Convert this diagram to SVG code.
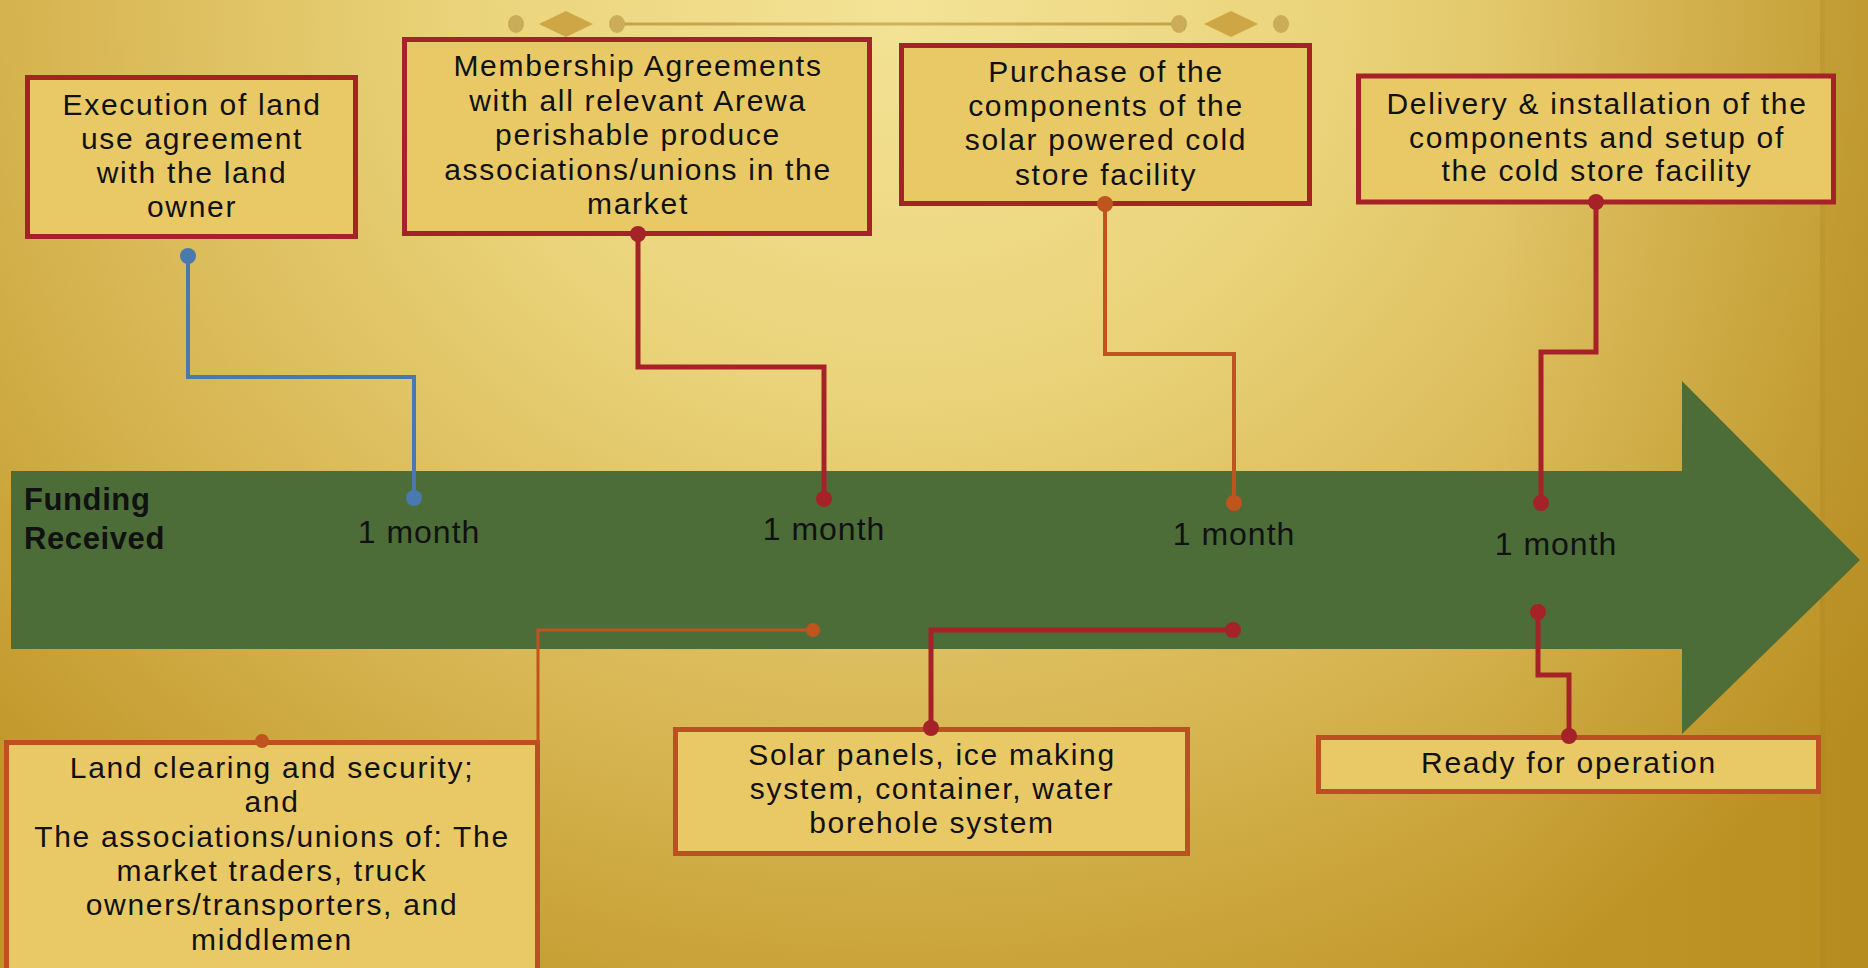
<svg xmlns="http://www.w3.org/2000/svg" width="1868" height="968" viewBox="0 0 1868 968">
  <defs>
    <radialGradient id="bg" cx="900" cy="0" r="1250" gradientUnits="userSpaceOnUse" gradientTransform="translate(900 0) scale(1 0.9) translate(-900 0)">
      <stop offset="0" stop-color="#f4e396"/>
      <stop offset="0.35" stop-color="#ead37a"/>
      <stop offset="0.7" stop-color="#d6b450"/>
      <stop offset="1" stop-color="#c09628"/>
    </radialGradient>
    <linearGradient id="rightShade" x1="0" y1="0" x2="1" y2="0">
      <stop offset="0" stop-color="#a87e10" stop-opacity="0"/>
      <stop offset="1" stop-color="#a87e10" stop-opacity="0.3"/>
    </linearGradient>
    <linearGradient id="decoLine" x1="0" y1="0" x2="1" y2="0">
      <stop offset="0" stop-color="#b89a44"/>
      <stop offset="0.5" stop-color="#c6a954"/>
      <stop offset="1" stop-color="#b89a44"/>
    </linearGradient>
    <style>
      .box-top { fill: #e9c966; stroke: #a52228; stroke-width: 5; }
      .box-bot { fill: #e9c966; stroke: #bd4f22; stroke-width: 5; }
      .txt { font-family: "Liberation Sans", Arial, sans-serif; font-size: 30px; letter-spacing: 1.7px; fill: #111; text-anchor: middle; }
      .month { font-family: "Liberation Sans", Arial, sans-serif; font-size: 32px; letter-spacing: 1px; fill: #111; text-anchor: middle; }
      .bold { font-family: "Liberation Sans", Arial, sans-serif; font-size: 31px; font-weight: bold; letter-spacing: 0.6px; fill: #111; }
      .c-blue { fill: none; stroke: #4a79b0; stroke-width: 4; }
      .c-red { fill: none; stroke: #a52228; stroke-width: 5; }
      .c-orange { fill: none; stroke: #c0541f; stroke-width: 4; }
      .c-orange-thin { fill: none; stroke: #c0541f; stroke-width: 3; }
      .d-blue { fill: #4a79b0; }
      .d-red { fill: #a52228; }
      .d-orange { fill: #c0541f; }
    </style>
  </defs>

  <!-- background -->
  <rect x="0" y="0" width="1868" height="968" fill="url(#bg)"/>
  <rect x="1500" y="0" width="368" height="968" fill="url(#rightShade)"/>
  <rect x="1820" y="0" width="5" height="968" fill="#a47c18" opacity="0.25"/>
  <rect x="1825" y="0" width="43" height="968" fill="#a47c18" opacity="0.12"/>

  <!-- top decoration -->
  <g id="decoration" opacity="0.85">
    <rect x="616" y="22.5" width="563" height="3" fill="url(#decoLine)"/>
    <ellipse cx="516" cy="24" rx="8" ry="9" fill="#c4a552"/>
    <polygon points="539,24 566,11 593,24 566,37" fill="#c99e3c"/>
    <ellipse cx="617" cy="24" rx="8" ry="9" fill="#c4a552"/>
    <ellipse cx="1179" cy="24" rx="8" ry="9" fill="#c4a552"/>
    <polygon points="1204,24 1231,11 1258,24 1231,37" fill="#c99e3c"/>
    <ellipse cx="1281" cy="24" rx="8" ry="9" fill="#c4a552"/>
  </g>

  <!-- timeline arrow -->
  <g id="timeline">
    <polygon points="11,471 1682,471 1682,381 1860,560 1682,734 1682,649 11,649" fill="#4c6d38"/>
    <text class="bold" x="24" y="510">Funding</text>
    <text class="bold" x="24" y="549">Received</text>
    <text class="month" x="419" y="543">1 month</text>
    <text class="month" x="824" y="540">1 month</text>
    <text class="month" x="1234" y="545">1 month</text>
    <text class="month" x="1556" y="555">1 month</text>
  </g>

  <!-- top nodes -->
  <g id="node-land-use">
    <rect class="box-top" x="27.5" y="77.5" width="328" height="159"/>
    <text class="txt" x="192" y="115">Execution of land</text>
    <text class="txt" x="192" y="149">use agreement</text>
    <text class="txt" x="192" y="183">with the land</text>
    <text class="txt" x="192" y="217">owner</text>
  </g>

  <g id="node-membership">
    <rect class="box-top" x="404.5" y="39.5" width="465" height="194"/>
    <text class="txt" x="638" y="76">Membership Agreements</text>
    <text class="txt" x="638" y="111">with all relevant Arewa</text>
    <text class="txt" x="638" y="145">perishable produce</text>
    <text class="txt" x="638" y="180">associations/unions in the</text>
    <text class="txt" x="638" y="214">market</text>
  </g>

  <g id="node-purchase">
    <rect class="box-top" x="901.5" y="45.5" width="408" height="158"/>
    <text class="txt" x="1106" y="82">Purchase of the</text>
    <text class="txt" x="1106" y="116">components of the</text>
    <text class="txt" x="1106" y="150">solar powered cold</text>
    <text class="txt" x="1106" y="185">store facility</text>
  </g>

  <g id="node-delivery">
    <rect class="box-top" x="1358.5" y="76" width="475" height="126"/>
    <text class="txt" x="1597" y="114">Delivery &amp; installation of the</text>
    <text class="txt" x="1597" y="148">components and setup of</text>
    <text class="txt" x="1597" y="181">the cold store facility</text>
  </g>

  <!-- bottom nodes -->
  <g id="node-land-clearing">
    <rect class="box-bot" x="6.5" y="742.5" width="531" height="240"/>
    <text class="txt" x="272" y="778">Land clearing and security;</text>
    <text class="txt" x="272" y="812">and</text>
    <text class="txt" x="272" y="847">The associations/unions of: The</text>
    <text class="txt" x="272" y="881">market traders, truck</text>
    <text class="txt" x="272" y="915">owners/transporters, and</text>
    <text class="txt" x="272" y="950">middlemen</text>
  </g>

  <g id="node-solar">
    <rect class="box-bot" x="675.5" y="729.5" width="512" height="124"/>
    <text class="txt" x="932" y="765">Solar panels, ice making</text>
    <text class="txt" x="932" y="799">system, container, water</text>
    <text class="txt" x="932" y="833">borehole system</text>
  </g>

  <g id="node-ready">
    <rect class="box-bot" x="1318.5" y="737.5" width="500" height="54"/>
    <text class="txt" x="1569" y="773">Ready for operation</text>
  </g>

  <!-- connectors -->
  <g id="connectors">
    <path class="c-blue" d="M188,256 V377 H414 V498"/>
    <circle class="d-blue" cx="188" cy="256" r="8"/>
    <circle class="d-blue" cx="414" cy="498" r="8"/>

    <path class="c-red" d="M638,234 V367 H824 V499"/>
    <circle class="d-red" cx="638" cy="234" r="8"/>
    <circle class="d-red" cx="824" cy="499" r="8"/>

    <path class="c-orange" d="M1105,204 V354 H1234 V503"/>
    <circle class="d-orange" cx="1105" cy="204" r="8"/>
    <circle class="d-orange" cx="1234" cy="503" r="8"/>

    <path class="c-red" d="M1596,202 V352 H1541 V503"/>
    <circle class="d-red" cx="1596" cy="202" r="8"/>
    <circle class="d-red" cx="1541" cy="503" r="8"/>

    <path class="c-orange-thin" d="M813,630 H538 V742"/>
    <circle class="d-orange" cx="813" cy="630" r="7"/>
    <circle class="d-orange" cx="262" cy="741" r="7"/>

    <path class="c-red" d="M1233,630 H931 V728"/>
    <circle class="d-red" cx="1233" cy="630" r="8"/>
    <circle class="d-red" cx="931" cy="728" r="8"/>

    <path class="c-red" d="M1538,612 V675 H1569 V736"/>
    <circle class="d-red" cx="1538" cy="612" r="8"/>
    <circle class="d-red" cx="1569" cy="736" r="8"/>
  </g>
</svg>
